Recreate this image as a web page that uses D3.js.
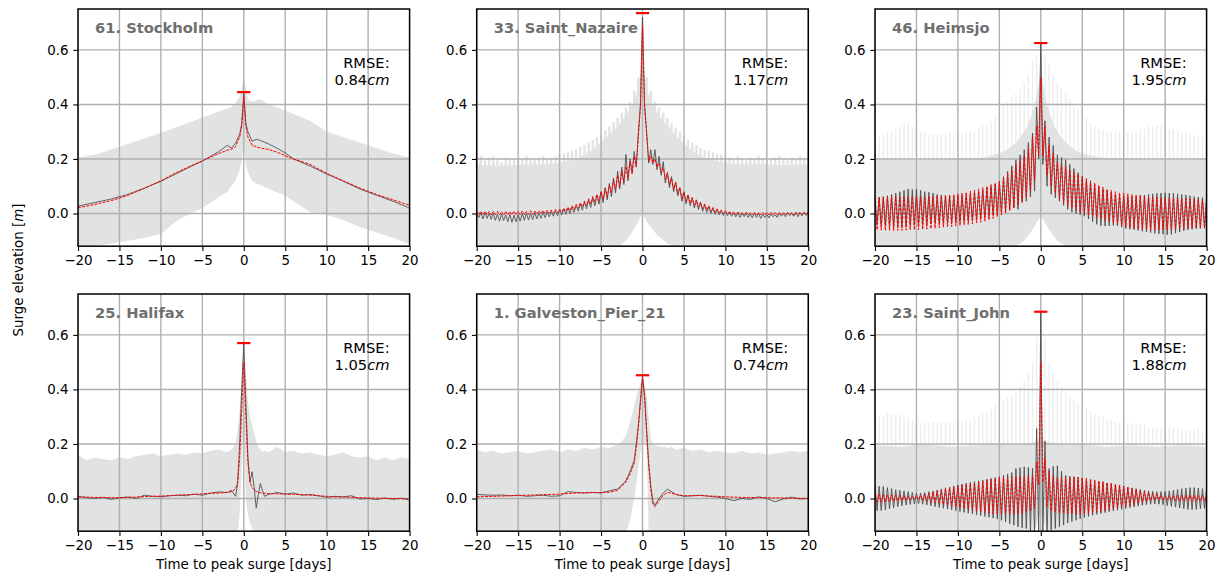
<!DOCTYPE html>
<html><head><meta charset="utf-8">
<script src="https://cdn.jsdelivr.net/npm/d3@7"></script>
<style>body{margin:0;background:#fff;} svg{display:block;}</style>
</head><body><svg id="chart" width="1221" height="578"></svg>
<script>
// ---------------- DATA ----------------
const stationNames = ["61. Stockholm", "33. Saint_Nazaire", "46. Heimsjo", "25. Halifax", "1. Galveston_Pier_21", "23. Saint_John"];
const rmseValues = ["0.84", "1.17", "1.95", "1.05", "0.74", "1.88"];
const peakValues = [0.445, 0.735, 0.625, 0.57, 0.452, 0.685];
const xTicks = [-20, -15, -10, -5, 0, 5, 10, 15, 20];
const yTicks = [0.0, 0.2, 0.4, 0.6];
const xLabel = "Time to peak surge [days]";

// Stockholm (smooth)
const stockholmDays = [-20,-18,-16,-14,-12,-10,-8,-6,-5,-4,-3,-2,-1.5,-1,-0.5,-0.25,0,0.25,0.5,1,1.5,2,3,4,5,6,8,10,12,14,16,18,20];
const stockholmObs = [0.027,0.04,0.053,0.07,0.093,0.118,0.148,0.178,0.192,0.21,0.227,0.25,0.24,0.258,0.29,0.33,0.44,0.33,0.3,0.265,0.272,0.268,0.255,0.24,0.222,0.2,0.174,0.145,0.118,0.09,0.067,0.045,0.02];
const stockholmModel = [0.021,0.033,0.047,0.066,0.092,0.12,0.152,0.18,0.193,0.207,0.22,0.232,0.236,0.245,0.28,0.32,0.43,0.32,0.28,0.25,0.245,0.24,0.235,0.225,0.212,0.2,0.18,0.147,0.12,0.093,0.07,0.05,0.03];
const stockholmBandHigh = [0.205,0.215,0.235,0.255,0.275,0.295,0.318,0.34,0.352,0.362,0.375,0.385,0.39,0.405,0.43,0.46,0.5,0.46,0.42,0.41,0.415,0.42,0.4,0.39,0.378,0.365,0.34,0.3,0.28,0.26,0.24,0.22,0.205];
const stockholmBandLow = [-0.13,-0.12,-0.11,-0.1,-0.09,-0.075,-0.025,0.005,0.02,0.04,0.06,0.08,0.1,0.12,0.16,0.19,0.25,0.18,0.15,0.12,0.11,0.105,0.09,0.078,0.065,0.045,0.005,-0.005,-0.025,-0.05,-0.07,-0.09,-0.113];

// Halifax (smooth)
const halifaxDays = [-20,-19,-18,-17,-16,-15,-14,-13,-12,-11,-10,-9,-8,-7,-6,-5,-4,-3,-2,-1.5,-1,-0.75,-0.5,-0.25,0,0.25,0.5,0.75,1,1.25,1.5,1.75,2,2.25,2.5,3,4,5,6,7,8,9,10,11,12,13,14,15,16,17,18,19,20];
const halifaxObs = [0.008,0.003,0.0,0.004,-0.003,0.002,0.006,0.0,0.012,0.008,0.006,0.01,0.012,0.01,0.016,0.012,0.02,0.024,0.022,0.03,0.008,0.05,0.2,0.4,0.57,0.35,0.15,0.06,0.098,0.04,-0.035,0.015,0.055,0.03,0.008,0.015,0.022,0.016,0.02,0.012,0.015,0.01,0.004,0.008,0.006,0.01,-0.002,0.0,-0.004,0.002,-0.003,0.001,-0.006];
const halifaxModel = [0.006,0.005,0.004,0.004,0.003,0.003,0.004,0.005,0.007,0.008,0.009,0.01,0.012,0.014,0.015,0.017,0.019,0.02,0.022,0.025,0.035,0.06,0.15,0.33,0.5,0.3,0.13,0.06,0.04,0.032,0.026,0.023,0.021,0.02,0.019,0.018,0.017,0.016,0.015,0.014,0.012,0.01,0.008,0.006,0.005,0.004,0.003,0.002,0.001,0.0,0.0,-0.001,-0.002];
const halifaxBandHigh = [0.16,0.14,0.15,0.145,0.14,0.15,0.145,0.155,0.16,0.165,0.155,0.16,0.165,0.16,0.17,0.165,0.175,0.18,0.17,0.18,0.2,0.25,0.33,0.45,0.56,0.45,0.36,0.3,0.27,0.24,0.21,0.19,0.18,0.17,0.175,0.17,0.19,0.17,0.175,0.165,0.17,0.16,0.155,0.16,0.17,0.155,0.15,0.155,0.14,0.15,0.14,0.15,0.145];
const halifaxBandLow = [-0.14,-0.14,-0.14,-0.14,-0.14,-0.14,-0.14,-0.14,-0.14,-0.14,-0.14,-0.14,-0.14,-0.14,-0.14,-0.14,-0.14,-0.14,-0.14,-0.14,-0.14,-0.14,-0.05,0.1,0.3,0.0,-0.06,-0.09,-0.11,-0.13,-0.14,-0.14,-0.14,-0.14,-0.14,-0.14,-0.14,-0.14,-0.14,-0.14,-0.14,-0.14,-0.14,-0.14,-0.14,-0.14,-0.14,-0.14,-0.14,-0.14,-0.14,-0.14,-0.14];

// Galveston (smooth)
const galvestonDays = [-20,-19,-18,-17,-16,-15,-14,-13,-12,-11,-10,-9,-8,-7,-6,-5,-4,-3,-2.5,-2,-1.5,-1,-0.75,-0.5,-0.25,0,0.25,0.5,0.75,1,1.25,1.5,2,2.5,3,3.5,4,5,6,7,8,9,10,11,12,13,14,15,16,17,18,19,20];
const galvestonObs = [0.015,0.013,0.012,0.013,0.01,0.012,0.008,0.01,0.012,0.008,0.01,0.025,0.022,0.02,0.022,0.02,0.028,0.035,0.05,0.065,0.1,0.14,0.2,0.27,0.36,0.45,0.38,0.25,0.13,0.045,-0.01,-0.025,0.0,0.02,0.034,0.025,0.015,0.008,0.01,0.012,0.008,0.005,0.0,-0.008,0.0,-0.003,0.006,0.0,-0.012,-0.002,0.005,-0.002,0.0];
const galvestonModel = [0.006,0.007,0.008,0.009,0.01,0.011,0.012,0.013,0.014,0.015,0.016,0.018,0.02,0.021,0.022,0.022,0.023,0.03,0.045,0.06,0.09,0.13,0.19,0.26,0.35,0.44,0.37,0.24,0.12,0.035,-0.02,-0.03,-0.008,0.012,0.022,0.02,0.015,0.01,0.01,0.011,0.009,0.008,0.006,0.005,0.004,0.004,0.003,0.003,0.002,0.002,0.001,0.001,0.0];
const galvestonBandHigh = [0.18,0.17,0.175,0.165,0.17,0.175,0.165,0.17,0.175,0.18,0.17,0.18,0.175,0.185,0.18,0.19,0.185,0.2,0.21,0.23,0.28,0.34,0.37,0.4,0.42,0.44,0.42,0.38,0.3,0.22,0.2,0.195,0.19,0.19,0.185,0.19,0.18,0.185,0.175,0.18,0.17,0.175,0.17,0.165,0.175,0.165,0.17,0.16,0.165,0.17,0.175,0.17,0.175];
const galvestonBandLow = [-0.14,-0.14,-0.14,-0.14,-0.14,-0.14,-0.14,-0.14,-0.14,-0.14,-0.14,-0.14,-0.14,-0.14,-0.14,-0.14,-0.14,-0.14,-0.14,-0.13,-0.08,0.0,0.05,0.11,0.17,0.21,0.2,0.19,-0.14,-0.14,-0.14,-0.14,-0.14,-0.14,-0.14,-0.14,-0.14,-0.14,-0.14,-0.14,-0.14,-0.14,-0.14,-0.14,-0.14,-0.14,-0.14,-0.14,-0.14,-0.14,-0.14,-0.14,-0.14];

// Tidal panels: extremes every half day (highs at -20,-19.5,...,20; lows at -19.75,...,19.75)
const nazaireObsHigh = [0.005,0.003,0.004,0.0,0.002,-0.003,-0.002,-0.005,-0.003,-0.006,-0.004,
  0.0,0.002,0.0,0.004,0.002,0.005,0.006,0.008,0.01,0.012,
  0.016,0.02,0.024,0.03,0.036,0.042,0.05,0.058,0.068,
  0.08,0.095,0.11,0.13,0.155,0.17,0.216,0.2,0.228,0.295,
  0.72,
  0.3,0.234,0.234,0.21,0.19,0.15,0.135,0.115,0.095,0.08,
  0.068,0.058,0.048,0.04,0.032,0.025,0.02,0.015,0.01,0.006,
  0.004,0.002,0.003,0.0,0.002,-0.002,0.0,0.001,-0.003,-0.004,-0.002,-0.005,0.0,-0.002,0.002,0.0,0.003,0.002,0.005,0.006];
const nazaireObsLow = [-0.015,-0.02,-0.018,-0.022,-0.025,-0.028,-0.026,-0.03,-0.032,-0.03,
  -0.028,-0.025,-0.024,-0.022,-0.02,-0.018,-0.015,-0.012,-0.01,-0.008,
  -0.006,-0.003,0.0,0.004,0.008,0.012,0.017,0.022,0.028,0.034,
  0.04,0.05,0.062,0.075,0.09,0.106,0.12,0.15,0.173,
  0.4,0.4,
  0.185,0.18,0.16,0.14,0.112,0.095,0.08,0.065,0.045,
  0.035,0.028,0.02,0.014,0.008,0.004,0.0,-0.003,-0.005,-0.007,
  -0.008,-0.01,-0.012,-0.014,-0.012,-0.015,-0.016,-0.014,-0.018,-0.015,-0.016,-0.012,-0.014,-0.01,-0.012,-0.008,-0.01,-0.012,-0.009,-0.007];
const nazaireModelHigh = [0.008,0.008,0.007,0.008,0.007,0.008,0.006,0.008,0.007,0.008,0.008,
  0.009,0.008,0.01,0.009,0.01,0.011,0.012,0.013,0.015,0.016,
  0.019,0.023,0.028,0.033,0.039,0.046,0.054,0.062,0.07,
  0.08,0.092,0.105,0.122,0.14,0.157,0.173,0.19,0.21,0.285,
  0.69,
  0.29,0.21,0.2,0.185,0.168,0.15,0.13,0.115,0.095,0.078,
  0.068,0.058,0.05,0.042,0.035,0.028,0.022,0.017,0.013,0.01,
  0.008,0.006,0.005,0.004,0.004,0.003,0.004,0.003,0.003,0.004,0.003,0.004,0.003,0.004,0.004,0.003,0.004,0.005,0.004,0.005];
const nazaireModelLow = [-0.004,-0.005,-0.004,-0.005,-0.004,-0.005,-0.006,-0.005,-0.004,-0.005,
  -0.004,-0.004,-0.003,-0.003,-0.002,-0.001,0.0,0.001,0.002,0.003,
  0.005,0.008,0.011,0.015,0.019,0.024,0.029,0.035,0.041,0.046,
  0.052,0.062,0.075,0.088,0.1,0.115,0.13,0.145,0.17,
  0.39,0.39,
  0.19,0.185,0.17,0.15,0.125,0.105,0.088,0.072,0.055,
  0.045,0.037,0.03,0.024,0.018,0.013,0.009,0.005,0.002,0.0,
  -0.002,-0.003,-0.004,-0.004,-0.005,-0.005,-0.005,-0.006,-0.005,-0.006,-0.005,-0.005,-0.006,-0.005,-0.005,-0.004,-0.005,-0.004,-0.004,-0.004];
const nazaireSpikeTop = [0.2,0.21,0.195,0.205,0.21,0.2,0.19,0.205,0.2,0.195,0.205,0.2,0.21,0.195,0.2,0.205,0.21,0.2,0.205,0.21,0.215,
  0.22,0.225,0.23,0.235,0.245,0.25,0.26,0.27,0.28,0.29,0.305,0.32,0.335,0.35,0.37,0.39,0.41,0.45,0.5,
  0.6,
  0.5,0.45,0.41,0.39,0.37,0.35,0.33,0.315,0.3,0.285,0.27,0.26,0.25,0.24,0.235,0.23,0.225,0.22,0.215,0.21,
  0.205,0.2,0.21,0.2,0.195,0.205,0.2,0.21,0.2,0.195,0.2,0.205,0.21,0.2,0.195,0.205,0.2,0.21,0.205,0.2];
const nazaireBandDays = [-20,-17,-14,-12,-10,-8,-7,-6,-5,-4,-3,-2,-1.5,-1,-0.5,-0.25,0,0.25,0.5,1,1.5,2,3,4,5,6,7,8,10,12,14,17,20];
const nazaireBandHigh = [0.18,0.175,0.18,0.18,0.185,0.2,0.215,0.235,0.26,0.29,0.32,0.36,0.385,0.41,0.46,0.5,0.53,0.5,0.46,0.41,0.385,0.36,0.32,0.285,0.255,0.23,0.21,0.2,0.185,0.18,0.18,0.178,0.18];
const nazaireBandLow = [-0.14,-0.14,-0.14,-0.14,-0.14,-0.14,-0.14,-0.14,-0.14,-0.14,-0.125,-0.1,-0.08,-0.055,-0.03,-0.015,-0.005,-0.015,-0.03,-0.05,-0.07,-0.085,-0.11,-0.13,-0.14,-0.14,-0.14,-0.14,-0.14,-0.14,-0.14,-0.14,-0.14];

const heimsjoObsHigh = [0.055,0.06,0.062,0.065,0.07,0.075,0.08,0.085,0.09,0.088,0.09,0.085,0.08,0.078,0.075,0.07,0.068,0.066,0.065,0.064,0.065,
  0.068,0.07,0.074,0.078,0.082,0.087,0.093,0.1,0.108,0.116,0.135,0.155,0.175,0.197,0.215,0.234,0.26,0.295,0.39,
  0.625,
  0.34,0.28,0.25,0.215,0.205,0.197,0.18,0.165,0.15,0.135,0.124,0.115,0.105,0.098,0.09,0.084,0.078,0.072,0.066,0.06,
  0.06,0.062,0.064,0.066,0.068,0.07,0.072,0.074,0.075,0.076,0.075,0.074,0.072,0.07,0.068,0.065,0.062,0.06,0.058,0.06];
const heimsjoObsLow = [-0.04,-0.042,-0.044,-0.045,-0.046,-0.046,-0.045,-0.044,-0.043,-0.042,-0.04,-0.04,-0.038,-0.036,-0.035,-0.034,-0.033,-0.032,-0.031,-0.03,
  -0.03,-0.028,-0.026,-0.024,-0.022,-0.018,-0.014,-0.01,-0.006,0.0,0.005,0.01,0.015,0.02,0.015,0.04,0.045,0.06,0.082,
  0.2,0.18,
  0.1,0.07,0.057,0.045,0.03,0.015,0.005,0.0,-0.005,-0.01,-0.02,-0.03,-0.04,-0.045,-0.046,-0.045,-0.044,-0.045,-0.05,
  -0.055,-0.058,-0.06,-0.062,-0.065,-0.068,-0.07,-0.073,-0.075,-0.076,-0.078,-0.076,-0.072,-0.068,-0.064,-0.06,-0.058,-0.056,-0.055,-0.054];
const heimsjoModelHigh = [0.06,0.058,0.06,0.062,0.06,0.063,0.06,0.062,0.06,0.061,0.06,0.062,0.06,0.063,0.062,0.064,0.063,0.066,0.068,0.07,0.072,
  0.075,0.078,0.082,0.086,0.09,0.095,0.1,0.106,0.112,0.118,0.13,0.145,0.16,0.18,0.195,0.21,0.24,0.283,0.32,
  0.5,
  0.32,0.25,0.22,0.19,0.18,0.173,0.16,0.15,0.143,0.136,0.128,0.12,0.112,0.104,0.097,0.09,0.085,0.08,0.077,0.075,
  0.072,0.07,0.068,0.066,0.064,0.062,0.061,0.06,0.058,0.057,0.057,0.056,0.055,0.055,0.054,0.053,0.052,0.052,0.051,0.05];
const heimsjoModelLow = [-0.06,-0.061,-0.062,-0.062,-0.063,-0.062,-0.062,-0.061,-0.06,-0.06,-0.059,-0.058,-0.057,-0.056,-0.054,-0.052,-0.05,-0.049,-0.048,-0.046,
  -0.044,-0.042,-0.04,-0.038,-0.035,-0.032,-0.028,-0.024,-0.018,-0.012,-0.006,0.0,0.01,0.02,0.03,0.045,0.06,0.085,0.12,
  0.21,0.21,
  0.14,0.1,0.075,0.055,0.04,0.03,0.02,0.012,0.005,0.0,-0.005,-0.01,-0.015,-0.02,-0.025,-0.03,-0.035,-0.04,-0.045,
  -0.05,-0.052,-0.054,-0.056,-0.058,-0.06,-0.06,-0.061,-0.06,-0.06,-0.059,-0.058,-0.057,-0.056,-0.055,-0.054,-0.053,-0.053,-0.052,-0.052];
const heimsjoSpikeTop = [0.27,0.28,0.29,0.3,0.3,0.31,0.32,0.33,0.33,0.32,0.31,0.3,0.3,0.29,0.29,0.29,0.29,0.29,0.3,0.29,0.29,
  0.29,0.3,0.3,0.3,0.31,0.32,0.33,0.34,0.36,0.38,0.395,0.41,0.425,0.44,0.46,0.48,0.51,0.56,0.58,
  0.62,
  0.58,0.55,0.51,0.48,0.46,0.44,0.42,0.4,0.385,0.37,0.35,0.33,0.32,0.31,0.305,0.3,0.3,0.3,0.3,0.3,
  0.3,0.3,0.3,0.31,0.31,0.32,0.32,0.32,0.32,0.32,0.31,0.31,0.31,0.3,0.3,0.29,0.29,0.28,0.28,0.27];
const heimsjoBandDays = [-20,-15,-10,-7,-5,-4,-3,-2,-1.5,-1,-0.5,-0.25,0,0.25,0.5,1,1.5,2,3,4,5,7,10,15,20];
const heimsjoBandHigh = [0.2,0.195,0.2,0.205,0.22,0.235,0.26,0.3,0.33,0.37,0.43,0.48,0.52,0.48,0.43,0.37,0.33,0.3,0.26,0.235,0.22,0.205,0.2,0.195,0.2];
const heimsjoBandLow = [-0.14,-0.14,-0.14,-0.14,-0.135,-0.13,-0.12,-0.1,-0.08,-0.06,-0.035,-0.02,-0.01,-0.02,-0.035,-0.06,-0.08,-0.1,-0.12,-0.13,-0.135,-0.14,-0.14,-0.14,-0.14];

const johnObsHigh = [0.046,0.045,0.044,0.04,0.036,0.032,0.03,0.028,0.025,0.022,0.02,0.02,0.022,0.025,0.028,0.031,0.035,0.039,0.042,0.046,0.05,
  0.053,0.056,0.059,0.062,0.065,0.068,0.071,0.074,0.077,0.08,0.085,0.09,0.095,0.11,0.113,0.116,0.114,0.11,0.257,
  0.685,
  0.21,0.11,0.118,0.12,0.1,0.085,0.082,0.08,0.078,0.075,0.072,0.069,0.066,0.063,0.06,0.057,0.054,0.051,0.048,0.045,
  0.042,0.039,0.036,0.033,0.03,0.028,0.026,0.025,0.025,0.026,0.028,0.03,0.033,0.036,0.038,0.04,0.04,0.038,0.036,0.035];
const johnObsLow = [-0.045,-0.044,-0.042,-0.038,-0.034,-0.03,-0.027,-0.024,-0.022,-0.02,-0.019,-0.021,-0.024,-0.027,-0.03,-0.033,-0.036,-0.039,-0.042,-0.045,
  -0.048,-0.051,-0.054,-0.057,-0.06,-0.063,-0.066,-0.069,-0.072,-0.075,-0.08,-0.086,-0.092,-0.098,-0.104,-0.108,-0.11,-0.118,-0.125,
  -0.13,-0.13,
  -0.125,-0.115,-0.11,-0.104,-0.098,-0.09,-0.085,-0.08,-0.075,-0.07,-0.066,-0.062,-0.058,-0.055,-0.052,-0.049,-0.046,-0.043,-0.04,
  -0.037,-0.034,-0.031,-0.028,-0.025,-0.023,-0.021,-0.02,-0.021,-0.023,-0.026,-0.029,-0.032,-0.035,-0.038,-0.04,-0.041,-0.04,-0.038,-0.036];
const johnModelHigh = [0.016,0.016,0.015,0.014,0.013,0.012,0.011,0.01,0.009,0.008,0.008,0.012,0.016,0.02,0.024,0.028,0.032,0.036,0.039,0.042,0.046,
  0.049,0.052,0.055,0.058,0.061,0.064,0.067,0.07,0.073,0.077,0.078,0.079,0.08,0.08,0.08,0.081,0.082,0.085,0.134,
  0.5,
  0.147,0.1,0.08,0.076,0.077,0.078,0.078,0.079,0.078,0.077,0.074,0.071,0.068,0.065,0.062,0.059,0.056,0.053,0.05,0.046,
  0.042,0.038,0.034,0.03,0.026,0.022,0.018,0.015,0.012,0.01,0.01,0.011,0.012,0.012,0.013,0.013,0.012,0.012,0.011,0.01];
const johnModelLow = [-0.015,-0.014,-0.013,-0.012,-0.011,-0.01,-0.008,-0.006,-0.004,-0.003,-0.003,-0.006,-0.009,-0.012,-0.015,-0.018,-0.021,-0.025,-0.028,-0.031,
  -0.034,-0.037,-0.04,-0.043,-0.046,-0.049,-0.052,-0.054,-0.056,-0.057,-0.058,-0.058,-0.058,-0.057,-0.056,-0.055,-0.052,-0.046,-0.037,
  0.05,0.06,
  -0.03,-0.045,-0.05,-0.052,-0.054,-0.056,-0.057,-0.058,-0.058,-0.057,-0.055,-0.053,-0.05,-0.047,-0.044,-0.041,-0.038,-0.035,-0.032,
  -0.029,-0.026,-0.022,-0.018,-0.014,-0.01,-0.007,-0.005,-0.004,-0.005,-0.006,-0.007,-0.008,-0.009,-0.01,-0.01,-0.011,-0.011,-0.01,-0.01];
const johnSpikeTop = [0.29,0.3,0.3,0.31,0.31,0.31,0.31,0.3,0.3,0.29,0.27,0.27,0.28,0.28,0.28,0.28,0.28,0.28,0.28,0.28,0.28,
  0.28,0.29,0.29,0.3,0.3,0.31,0.32,0.33,0.34,0.35,0.36,0.37,0.38,0.39,0.41,0.43,0.46,0.5,0.59,
  0.68,
  0.59,0.5,0.46,0.43,0.41,0.39,0.37,0.36,0.35,0.34,0.33,0.32,0.31,0.3,0.3,0.29,0.29,0.28,0.28,0.28,
  0.28,0.27,0.27,0.27,0.27,0.26,0.26,0.26,0.26,0.26,0.26,0.26,0.26,0.25,0.25,0.25,0.25,0.26,0.25,0.25];
const johnBandDays = [-20,-17,-14,-11,-8,-5,-3,-2,-1,-0.5,-0.25,0,0.25,0.5,1,2,3,5,8,11,14,17,20];
const johnBandHigh = [0.195,0.19,0.2,0.19,0.195,0.2,0.195,0.2,0.205,0.21,0.22,0.23,0.22,0.21,0.205,0.2,0.195,0.2,0.19,0.195,0.19,0.195,0.19];
const johnBandLow = [-0.14,-0.14,-0.14,-0.14,-0.14,-0.14,-0.14,-0.14,-0.13,-0.1,-0.07,-0.05,-0.07,-0.1,-0.13,-0.14,-0.14,-0.14,-0.14,-0.14,-0.14,-0.14,-0.14];

// ---------------- BUILD ----------------
const highDays = d3.range(81).map(k => -20 + 0.5 * k);
const lowDays = d3.range(80).map(k => -19.75 + 0.5 * k);

function zipSeries(days, vals) { return days.map((d, i) => [d, vals[i]]); }
function zipBand(days, hi, lo) { return days.map((d, i) => [d, hi[i], lo[i]]); }
function tidalSeries(highs, lows) {
  const out = [];
  highs.forEach((h, k) => {
    out.push([highDays[k], h]);
    if (k < lows.length) out.push([lowDays[k], lows[k]]);
  });
  return out;
}

const panelData = [
  { obs: zipSeries(stockholmDays, stockholmObs), model: zipSeries(stockholmDays, stockholmModel),
    band: zipBand(stockholmDays, stockholmBandHigh, stockholmBandLow), spikes: null },
  { obs: tidalSeries(nazaireObsHigh, nazaireObsLow), model: tidalSeries(nazaireModelHigh, nazaireModelLow),
    band: zipBand(nazaireBandDays, nazaireBandHigh, nazaireBandLow), spikes: zipSeries(highDays, nazaireSpikeTop), spikeStyle: 'solid' },
  { obs: tidalSeries(heimsjoObsHigh, heimsjoObsLow), model: tidalSeries(heimsjoModelHigh, heimsjoModelLow),
    band: zipBand(heimsjoBandDays, heimsjoBandHigh, heimsjoBandLow), spikes: zipSeries(highDays, heimsjoSpikeTop), spikeStyle: 'faint' },
  { obs: zipSeries(halifaxDays, halifaxObs), model: zipSeries(halifaxDays, halifaxModel),
    band: zipBand(halifaxDays, halifaxBandHigh, halifaxBandLow), spikes: null },
  { obs: zipSeries(galvestonDays, galvestonObs), model: zipSeries(galvestonDays, galvestonModel),
    band: zipBand(galvestonDays, galvestonBandHigh, galvestonBandLow), spikes: null },
  { obs: tidalSeries(johnObsHigh, johnObsLow), model: tidalSeries(johnModelHigh, johnModelLow),
    band: zipBand(johnBandDays, johnBandHigh, johnBandLow), spikes: zipSeries(highDays, johnSpikeTop), spikeStyle: 'faint' }
];

// ---------------- DRAW ----------------
const FONT = '"DejaVu Sans", "Liberation Sans", sans-serif';
const TICK_FS = 13.4, TITLE_FS = 14.7;
const BAND = '#e1e2e2';
const colLefts = [78, 476.7, 875], colWidth = 331.6;
const rowTops = [9, 294], rowHeight = 237.2;
const xDomain = [-20, 20], yDomain = [-0.12, 0.75];

const svg = d3.select('#chart').style('font-family', FONT);
svg.append('rect').attr('width', 1221).attr('height', 578).attr('fill', '#fff');
const defs = svg.append('defs');

panelData.forEach((p, i) => {
  const col = i % 3, row = Math.floor(i / 3);
  const left = colLefts[col], top = rowTops[row];
  const right = left + colWidth, bottom = top + rowHeight;
  const x = d3.scaleLinear().domain(xDomain).range([left, right]);
  const y = d3.scaleLinear().domain(yDomain).range([bottom, top]);

  defs.append('clipPath').attr('id', 'clip' + i).append('rect')
    .attr('x', left).attr('y', top).attr('width', colWidth).attr('height', rowHeight);

  const g = svg.append('g');
  const plot = g.append('g').attr('clip-path', `url(#clip${i})`);

  if (p.spikes) {
    plot.append('g').selectAll('line').data(p.spikes).join('line')
      .attr('x1', d => x(d[0])).attr('x2', d => x(d[0]))
      .attr('y1', y(0)).attr('y2', d => y(d[1]))
      .attr('stroke', p.spikeStyle === 'solid' ? BAND : '#ebecec')
      .attr('stroke-width', p.spikeStyle === 'solid' ? 2.4 : 1.3);
  }
  const area = d3.area().x(d => x(d[0])).y0(d => y(d[2])).y1(d => y(d[1]));
  plot.append('path').datum(p.band).attr('d', area).attr('fill', BAND);

  // grid
  plot.append('g').selectAll('line').data(xTicks).join('line')
    .attr('x1', d => x(d)).attr('x2', d => x(d)).attr('y1', top).attr('y2', bottom)
    .attr('stroke', '#b0b0b0').attr('stroke-width', 1.4);
  plot.append('g').selectAll('line').data(yTicks).join('line')
    .attr('x1', left).attr('x2', right).attr('y1', d => y(d)).attr('y2', d => y(d))
    .attr('stroke', '#b0b0b0').attr('stroke-width', 1.4);

  const line = d3.line().x(d => x(d[0])).y(d => y(d[1]));
  plot.append('path').datum(p.obs).attr('d', line).attr('fill', 'none')
    .attr('stroke', '#4a4a4a').attr('stroke-opacity', 0.85).attr('stroke-width', 1)
    .attr('stroke-linejoin', 'round');
  plot.append('path').datum(p.model).attr('d', line).attr('fill', 'none')
    .attr('stroke', '#ff0000').attr('stroke-width', 1).attr('stroke-dasharray', '3,1.2')
    .attr('stroke-linejoin', 'round');

  // peak marker
  g.append('line').attr('x1', x(-0.8)).attr('x2', x(0.8))
    .attr('y1', y(peakValues[i])).attr('y2', y(peakValues[i]))
    .attr('stroke', '#ff0000').attr('stroke-width', 2.2);

  // axes
  const xAxis = d3.axisBottom(x).tickValues(xTicks).tickSize(4.7).tickPadding(4.7).tickFormat(d3.format('d'));
  const yAxis = d3.axisLeft(y).tickValues(yTicks).tickSize(4.7).tickPadding(4.7).tickFormat(d3.format('.1f'));
  const gx = g.append('g').attr('transform', `translate(0,${bottom})`).call(xAxis);
  const gy = g.append('g').attr('transform', `translate(${left},0)`).call(yAxis);
  [gx, gy].forEach(ax => {
    ax.select('.domain').remove();
    ax.attr('font-family', FONT).attr('font-size', TICK_FS);
    ax.selectAll('.tick line').attr('stroke', '#000').attr('stroke-width', 1.1);
    ax.selectAll('.tick text').attr('fill', '#000');
  });

  // spines
  g.append('rect').attr('x', left).attr('y', top).attr('width', colWidth).attr('height', rowHeight)
    .attr('fill', 'none').attr('stroke', '#000').attr('stroke-width', 1.5);

  // title
  g.append('text').attr('x', left + 17).attr('y', top + 24)
    .attr('font-size', TITLE_FS).attr('font-weight', 'bold').attr('fill', '#6f6f6f')
    .text(stationNames[i]);

  // RMSE
  const rt = g.append('text').attr('text-anchor', 'end').attr('font-size', TITLE_FS).attr('fill', '#000');
  rt.append('tspan').attr('x', right - 20).attr('y', top + 59).text('RMSE:');
  const l2 = rt.append('tspan').attr('x', right - 20).attr('y', top + 75.5);
  l2.append('tspan').text(rmseValues[i]);
  l2.append('tspan').attr('font-style', 'italic').text('cm');

  if (row === 1) {
    g.append('text').attr('x', (left + right) / 2).attr('y', 569)
      .attr('text-anchor', 'middle').attr('font-size', TICK_FS).text(xLabel);
  }
});

// y label
const yl = svg.append('text').attr('transform', 'translate(23,270) rotate(-90)')
  .attr('text-anchor', 'middle').attr('font-size', TICK_FS);
yl.append('tspan').text('Surge elevation [');
yl.append('tspan').attr('font-style', 'italic').text('m');
yl.append('tspan').text(']');
</script>
</body></html>
